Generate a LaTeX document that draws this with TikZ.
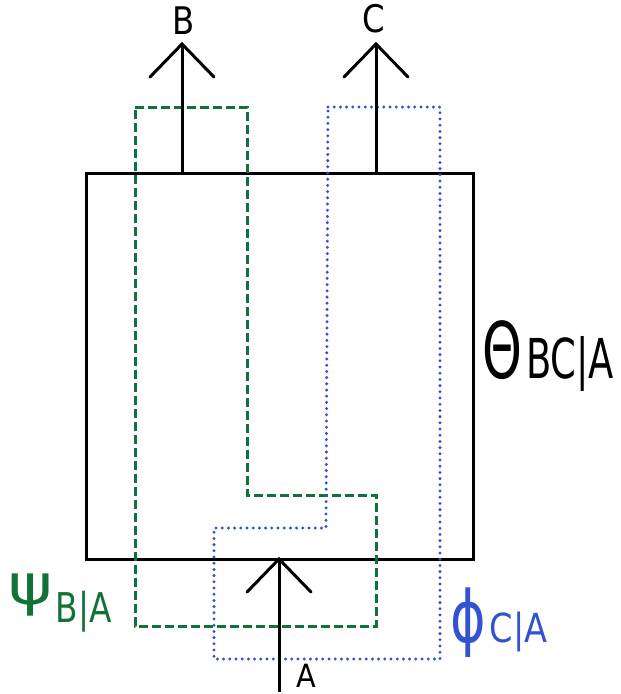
\documentclass[tikz,border=0pt]{standalone}
\usepackage{fontspec}
\setmainfont{DejaVu Sans}
\definecolor{psigreen}{RGB}{18,114,54}
\definecolor{phiblue}{RGB}{52,82,208}
\newcommand\hand[3]{\scalebox{#1}[1]{\fontsize{#2pt}{#2pt}\selectfont #3}}
\tikzset{
  wire/.style={line width=3pt, black},
  barb/.style={line width=3pt, black, line cap=round},
  greenpath/.style={line width=3pt, psigreen, dash pattern=on 9pt off 4pt},
  bluepath/.style={line width=3.3pt, phiblue, line cap=round, dash pattern=on 0pt off 6.2pt},
  lbl/.style={inner sep=0pt, anchor=base},
}
\begin{document}
\begin{tikzpicture}[x=1pt,y=-1pt]
\useasboundingbox (0,0) rectangle (621,694);
% main box
\node[draw, line width=3pt, minimum width=387pt, minimum height=386pt, inner sep=0pt] (box) at (279.5,366) {};
% green dashed region psi
\draw[greenpath] (135,107) -- (247,107) -- (247,495) -- (376,495) -- (376,626) -- (135,626) -- cycle;
% blue dotted region phi
\draw[bluepath] (328,107) -- (440,107) -- (440,659) -- (214,659) -- (214,528) -- (326,528) -- cycle;
% wires with open arrow heads
\coordinate (Bfoot) at (182,173);
\coordinate (Btip) at (182,44);
\coordinate (Cfoot) at (376,173);
\coordinate (Ctip) at (376,44);
\coordinate (Atip) at (279,559);
\coordinate (Aend) at (279,692);
\draw[wire] (Bfoot) -- (Btip);
\draw[barb] (150,77) -- (Btip) -- (214,77);
\draw[wire] (Cfoot) -- (Ctip);
\draw[barb] (344,77) -- (Ctip) -- (408,77);
\draw[wire] (Aend) -- (Atip);
\draw[barb] (247,592) -- (Atip) -- (311,592);
% labels
\node[lbl] (B) at (184,34) {\hand{0.85}{38}{B}};
\node[lbl] (C) at (374,32) {\hand{0.85}{38}{C}};
\node[lbl] (A) at (306,687) {\hand{0.9}{32}{A}};
\node[lbl, anchor=base west] (theta) at (482,378) {\hand{0.65}{78}{Θ}\kern4pt\hand{0.67}{55}{BC|A}};
\node[lbl, anchor=base west, text=psigreen] (psi) at (8,622) {\raisebox{18pt}{\hand{1.2}{56}{ψ}}\kern3pt\hand{0.8}{41}{B|A}};
\node[lbl, anchor=base west, text=phiblue] (phi) at (450,642) {\hand{0.75}{72}{ϕ}\kern4pt\hand{0.84}{40}{C|A}};
\end{tikzpicture}
\end{document}
